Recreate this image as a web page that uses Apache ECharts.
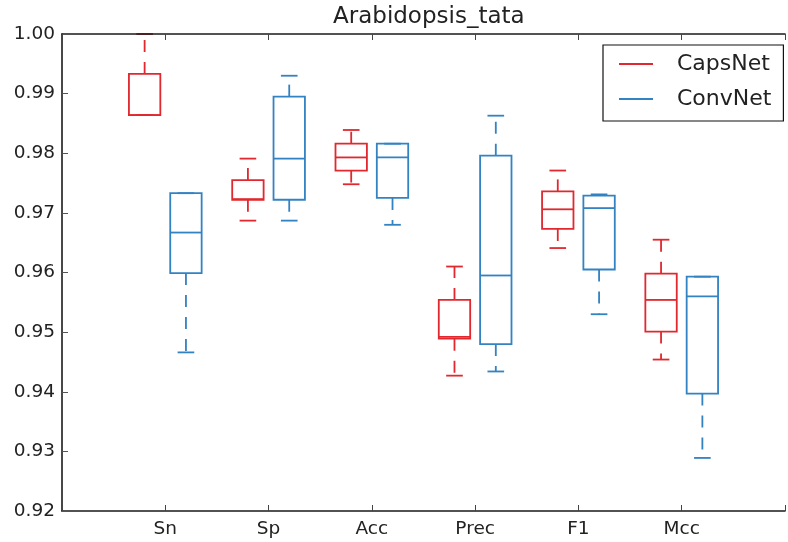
<!DOCTYPE html>
<html>
<head>
<meta charset="utf-8">
<script src="https://cdn.jsdelivr.net/npm/echarts@6/dist/echarts.min.js"></script>
<style>
html,body{margin:0;padding:0;background:#fff;}
#chart{width:788px;height:542px;}
</style>
</head>
<body>
<div id="chart"></div>
<script>
var titleText = 'Arabidopsis_tata';
var categories = ['Sn', 'Sp', 'Acc', 'Prec', 'F1', 'Mcc'];
var seriesNames = ['CapsNet', 'ConvNet'];
var yTicks = [0.92, 0.93, 0.94, 0.95, 0.96, 0.97, 0.98, 0.99, 1.00];

var capsMin = [0.9864, 0.9687, 0.9748, 0.9427, 0.9641, 0.9454];
var capsQ1  = [0.9864, 0.9722, 0.9771, 0.9489, 0.9673, 0.9501];
var capsMed = [0.9864, 0.9723, 0.9793, 0.9492, 0.9706, 0.9554];
var capsQ3  = [0.9933, 0.9755, 0.9816, 0.9554, 0.9736, 0.9598];
var capsMax = [1.0000, 0.9791, 0.9839, 0.9610, 0.9771, 0.9655];

var convMin = [0.9466, 0.9687, 0.9680, 0.9434, 0.9530, 0.9289];
var convQ1  = [0.9599, 0.9722, 0.9725, 0.9480, 0.9605, 0.9397];
var convMed = [0.9667, 0.9791, 0.9793, 0.9595, 0.9708, 0.9560];
var convQ3  = [0.9733, 0.9895, 0.9816, 0.9796, 0.9729, 0.9593];
var convMax = [0.9733, 0.9930, 0.9816, 0.9863, 0.9731, 0.9593];

var RED = '#e0282e';
var BLUE = '#3382c2';
var FONT = 'DejaVu Sans';

function buildData(mn, q1, md, q3, mx) {
  return categories.map(function (c, i) {
    return [i + 1, mn[i], q1[i], md[i], q3[i], mx[i]];
  });
}

function renderBox(params, api) {
  var x = api.value(0);
  var band = api.size([1, 0])[0];
  var off = (params.seriesIndex === 0 ? -1 : 1) * band * 0.2;
  var halfW = band * 0.152;
  var capHalf = halfW * 0.53;
  var pMin = api.coord([x, api.value(1)]);
  var pQ1 = api.coord([x, api.value(2)]);
  var pMed = api.coord([x, api.value(3)]);
  var pQ3 = api.coord([x, api.value(4)]);
  var pMax = api.coord([x, api.value(5)]);
  var cx = pMin[0] + off;
  var color = api.visual('color');
  var solid = { stroke: color, lineWidth: 1.8, fill: null };
  var dashed = { stroke: color, lineWidth: 1.8, fill: null, lineDash: [12, 10] };
  return {
    type: 'group',
    children: [
      { type: 'line', shape: { x1: cx, y1: pQ3[1], x2: cx, y2: pMax[1] }, style: dashed },
      { type: 'line', shape: { x1: cx, y1: pQ1[1], x2: cx, y2: pMin[1] }, style: dashed },
      { type: 'line', shape: { x1: cx - capHalf, y1: pMax[1], x2: cx + capHalf, y2: pMax[1] }, style: solid },
      { type: 'line', shape: { x1: cx - capHalf, y1: pMin[1], x2: cx + capHalf, y2: pMin[1] }, style: solid },
      { type: 'rect', shape: { x: cx - halfW, y: pQ3[1], width: halfW * 2, height: pQ1[1] - pQ3[1] }, style: solid },
      { type: 'line', shape: { x1: cx - halfW, y1: pMed[1], x2: cx + halfW, y2: pMed[1] }, style: solid }
    ]
  };
}

var chart = echarts.init(document.getElementById('chart'), null, { renderer: 'canvas' });

var xAxisBase = {
  type: 'value',
  min: 0,
  max: categories.length + 1,
  interval: 1,
  z: 5,
  splitLine: { show: false },
  axisLine: { show: true, onZero: false, lineStyle: { color: '#1a1a1a', width: 1.6 } },
  axisTick: { show: true, inside: true, length: 6, lineStyle: { color: '#444', width: 1 } }
};

var option = {
  backgroundColor: '#ffffff',
  animation: false,
  title: {
    text: titleText,
    left: 333,
    top: 6,
    padding: 0,
    textStyle: { fontFamily: FONT, fontSize: 23, fontWeight: 'normal', color: '#222' }
  },
  legend: {
    orient: 'vertical',
    left: 603,
    top: 45,
    z: 10,
    padding: [7, 12, 10, 16],
    itemGap: 11,
    itemWidth: 34,
    itemHeight: 2,
    selectedMode: false,
    borderColor: '#111',
    borderWidth: 1.2,
    borderRadius: 0,
    backgroundColor: '#fff',
    data: [
      { name: seriesNames[0], icon: 'rect' },
      { name: seriesNames[1], icon: 'rect' }
    ],
    textStyle: { fontFamily: FONT, fontSize: 22, lineHeight: 24, color: '#222', padding: [0, 0, 0, 19] }
  },
  grid: { left: 62, top: 34, width: 735, height: 477, containLabel: false, show: false },
  xAxis: [
    Object.assign({}, xAxisBase, {
      position: 'bottom',
      axisLabel: {
        show: true, margin: 9,
        fontFamily: FONT, fontSize: 18.5, color: '#222',
        formatter: function (v) { return categories[Math.round(v) - 1] || ''; }
      }
    }),
    Object.assign({}, xAxisBase, {
      position: 'top',
      axisLabel: { show: false }
    })
  ],
  yAxis: {
    type: 'value',
    min: yTicks[0],
    max: yTicks[yTicks.length - 1],
    interval: 0.01,
    z: 5,
    splitLine: { show: false },
    axisLine: { show: true, onZero: false, lineStyle: { color: '#1a1a1a', width: 1.6 } },
    axisTick: { show: true, inside: true, length: 6, lineStyle: { color: '#555', width: 1 } },
    axisLabel: {
      margin: 7,
      fontFamily: FONT, fontSize: 18.5, color: '#222',
      formatter: function (v) { return v.toFixed(2); }
    }
  },
  series: [
    {
      name: seriesNames[0],
      type: 'custom',
      xAxisIndex: 0,
      z: 2,
      itemStyle: { color: RED },
      renderItem: renderBox,
      encode: { x: 0, y: [1, 2, 3, 4, 5] },
      data: buildData(capsMin, capsQ1, capsMed, capsQ3, capsMax)
    },
    {
      name: seriesNames[1],
      type: 'custom',
      xAxisIndex: 0,
      z: 2,
      itemStyle: { color: BLUE },
      renderItem: renderBox,
      encode: { x: 0, y: [1, 2, 3, 4, 5] },
      data: buildData(convMin, convQ1, convMed, convQ3, convMax)
    }
  ]
};
chart.setOption(option);
</script>
</body>
</html>
